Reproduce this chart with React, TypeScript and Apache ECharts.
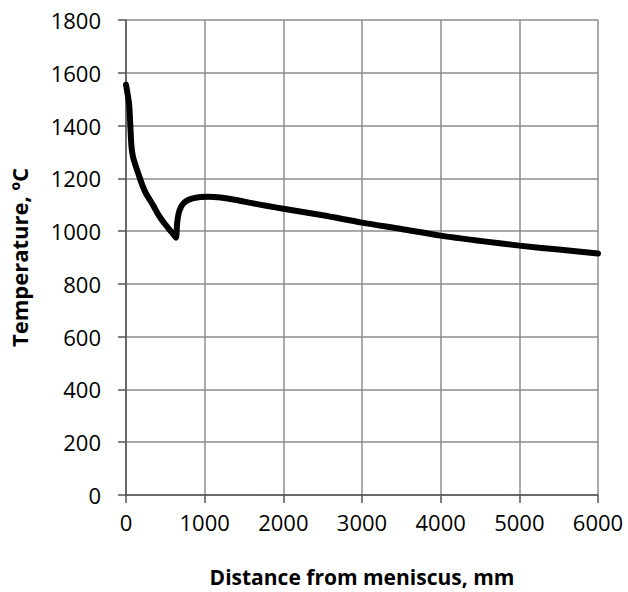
import React, { useEffect, useRef } from "react";
import * as echarts from "echarts";

const xTitle = "Distance from meniscus, mm";
const yTitle = "Temperature, ºC";
const distanceMm = [0, 20, 40, 55, 70, 90, 120, 160, 200, 250, 300, 350, 400, 450, 500, 560, 610, 635, 650, 670, 700, 740, 790, 850, 950, 1050, 1200, 1400, 1600, 1800, 2000, 2500, 3000, 3500, 4000, 4500, 5000, 5500, 6000];
const temperatureC = [1555, 1520, 1480, 1400, 1320, 1280, 1250, 1215, 1180, 1145, 1120, 1095, 1068, 1045, 1025, 1003, 985, 975, 1030, 1068, 1092, 1108, 1118, 1124, 1129, 1130, 1127, 1118, 1106, 1095, 1085, 1060, 1032, 1008, 983, 963, 945, 930, 915];

export default function App() {
  const ref = useRef<HTMLDivElement>(null);
  useEffect(() => {
    document.body.style.margin = "0";
    const chart = echarts.init(ref.current!, null, { renderer: "svg" });
    const font = "'Open Sans', sans-serif";
    chart.setOption({
      animation: false,
      backgroundColor: "#ffffff",
      grid: { left: 120, right: 30, top: 20, bottom: 96 },
      xAxis: {
        type: "value",
        min: 0,
        max: 6000,
        interval: 1000,
        name: xTitle,
        nameLocation: "middle",
        nameGap: 71,
        nameTextStyle: { fontFamily: font, fontSize: 21, fontWeight: "bold", color: "#000" },
        axisLine: { show: true, lineStyle: { color: "#555", width: 1.5 } },
        axisTick: { show: true, length: 8, lineStyle: { color: "#555", width: 1.5 } },
        axisLabel: { fontFamily: font, fontSize: 22, color: "#000", margin: 16, formatter: (v: number) => String(v) },
        splitLine: { show: true, lineStyle: { color: "#8c8c8c", width: 1.5 } },
      },
      yAxis: {
        type: "value",
        min: 0,
        max: 1800,
        interval: 200,
        name: yTitle,
        nameLocation: "middle",
        nameGap: 96,
        nameTextStyle: { fontFamily: font, fontSize: 22, fontWeight: "bold", color: "#000" },
        axisLine: { show: true, lineStyle: { color: "#555", width: 1.5 } },
        axisTick: { show: true, length: 8, lineStyle: { color: "#555", width: 1.5 } },
        axisLabel: { fontFamily: font, fontSize: 22, color: "#000", margin: 25, formatter: (v: number) => String(v) },
        splitLine: { show: true, lineStyle: { color: "#8c8c8c", width: 1.5 } },
      },
      series: [
        {
          type: "line",
          data: distanceMm.map((d, i) => [d, temperatureC[i]]),
          showSymbol: false,
          smooth: 0.3,
          lineStyle: { color: "#000", width: 6, join: "round", cap: "round" },
        },
      ],
    });
    return () => chart.dispose();
  }, []);
  return <div ref={ref} style={{ position: "fixed", left: 0, top: 0, width: 628, height: 592 }} />;
}
